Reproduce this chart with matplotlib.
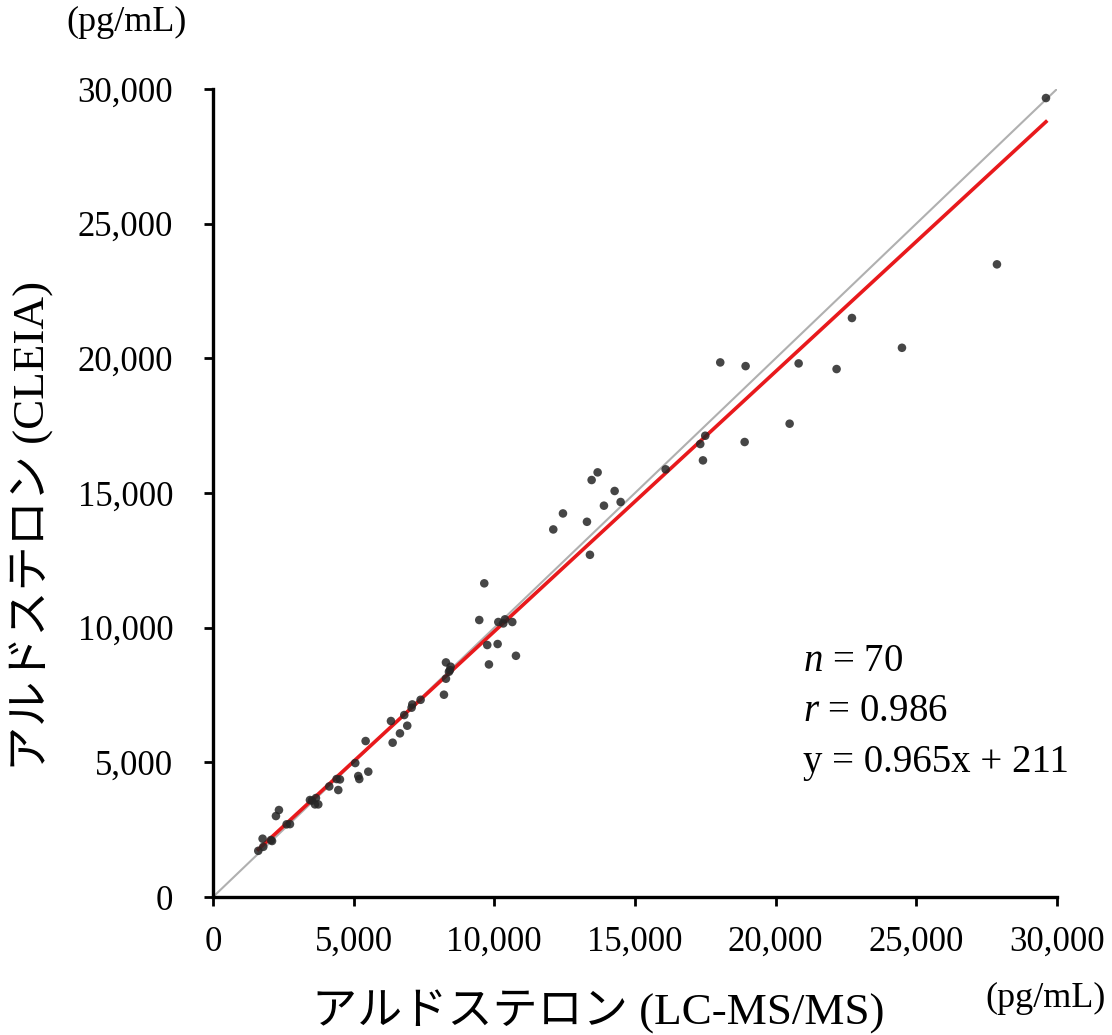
import numpy as np
import matplotlib
matplotlib.use("Agg")
import matplotlib.pyplot as plt

plt.rcParams['font.family'] = ['Liberation Serif', 'Noto Sans CJK JP']
plt.rcParams['mathtext.fontset'] = 'custom'
plt.rcParams['mathtext.it'] = 'Liberation Serif:italic'
plt.rcParams['mathtext.rm'] = 'Liberation Serif'

# LC-MS/MS (x) vs CLEIA (y), pg/mL
lcms = [1611, 1789, 1765, 2062, 2100, 2239, 2346, 2619, 2737, 3448,
        3520, 3661, 3626, 3744, 4135, 4396, 4514, 4455, 5058, 5165,
        5201, 5521, 5427, 6387, 6327, 6647, 6906, 6800, 7061, 7085,
        7381, 8211, 8282, 8282, 8389, 8424, 8448, 9644, 9466, 9750,
        9810, 10119, 10143, 10320, 10379, 10640, 10770, 12097, 12441, 13294,
        13400, 13460, 13673, 13898, 14278, 14491, 16091, 17321, 17499, 17417,
        18032, 18933, 18899, 20498, 20818, 22167, 22713, 24491, 27867, 29609]
cleia = [1716, 1864, 2166, 2116, 2080, 3007, 3230, 2699, 2707, 3602,
         3580, 3676, 3440, 3440, 4106, 4381, 4366, 3973, 4975, 4493,
         4381, 4654, 5792, 5730, 6535, 6077, 6361, 6757, 7030, 7151,
         7323, 7512, 8106, 8711, 8363, 8428, 8552, 11647, 10285, 9357,
         8636, 9394, 10211, 10159, 10310, 10211, 8957, 13648, 14242, 13932,
         12706, 15483, 15767, 14530, 15076, 14667, 15879, 16819, 17127, 16212,
         19849, 19712, 16894, 17574, 19812, 19603, 21498, 20392, 23490, 29665]

slope = 0.965
intercept = 211
n_pts = 70
r_val = 0.986

ticks = [0, 5000, 10000, 15000, 20000, 25000, 30000]

fig = plt.figure(figsize=(11.12, 10.35), dpi=100)
ax = fig.add_axes([0.1915, 0.1333, 0.759, 0.7807])

# identity line
ax.plot([0, 30000], [0, 30000], color='#b0b0b0', lw=1.5, zorder=1)

# regression line
xs = np.array([min(lcms), max(lcms)])
ax.plot(xs, slope * xs + intercept, color='#e8191c', lw=2.6, zorder=2)

ax.scatter(lcms, cleia, s=38, color='#262626', alpha=0.85, edgecolors='none', zorder=3)

ax.set_xlim(0, 30000)
ax.set_ylim(0, 30000)
ax.set_xticks(ticks)
ax.set_yticks(ticks)
ax.set_xticklabels(['{:,}'.format(t) for t in ticks])
ax.set_yticklabels(['{:,}'.format(t) for t in ticks])

for s in ['top', 'right']:
    ax.spines[s].set_visible(False)
for s in ['left', 'bottom']:
    ax.spines[s].set_linewidth(2.4)
ax.tick_params(axis='both', direction='out', length=6.5, width=2.0, labelsize=25)
ax.tick_params(axis='y', pad=22)
ax.tick_params(axis='x', pad=14)

ax.set_xlabel('アルドステロン (LC-MS/MS)', fontsize=32.5)
ax.xaxis.set_label_coords(0.457, -0.142)
ax.xaxis.label.set_va('center')
ax.set_ylabel('アルドステロン (CLEIA)', fontsize=32.5)
ax.yaxis.set_label_coords(-0.215, 0.459)
ax.yaxis.label.set_va('center')

fig.text(127 / 1112, 1 - 22 / 1035, '(pg/mL)', fontsize=26, ha='center', va='center')
fig.text(1046 / 1112, 1 - 998 / 1035, '(pg/mL)', fontsize=26, ha='center', va='center')

ax.text(0.699, 0.291, r'$n$ = {}'.format(n_pts), transform=ax.transAxes, fontsize=28, va='center')
ax.text(0.699, 0.229, r'$r$ = {}'.format(r_val), transform=ax.transAxes, fontsize=28, va='center')
ax.text(0.699, 0.167, 'y = {}x + {}'.format(slope, intercept), transform=ax.transAxes,
        fontsize=28, va='center')

fig.savefig('out.png', dpi=100)
